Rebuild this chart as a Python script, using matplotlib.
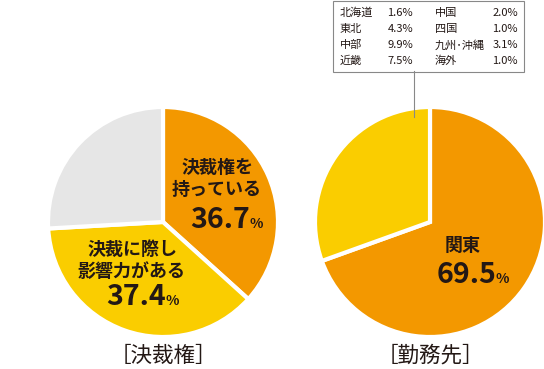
import matplotlib
matplotlib.use("Agg")
import matplotlib.pyplot as plt

plt.rcParams["font.family"] = ["Noto Sans CJK JP", "DejaVu Sans"]

# ---------------------------------------------------------------------------
# data
LEFT_TITLE = "［決裁権］"
LEFT_LABELS = [["決裁権を", "持っている"], ["決裁に際し", "影響力がある"], []]
LEFT_VALUES = [36.7, 37.4, 25.9]

RIGHT_TITLE = "［勤務先］"
RIGHT_LABELS = [["関東"], []]
RIGHT_VALUES = [69.5, 30.5]

REGION_NAMES_1 = ["北海道", "東北", "中部", "近畿"]
REGION_VALUES_1 = [1.6, 4.3, 9.9, 7.5]
REGION_NAMES_2 = ["中国", "四国", "九州･沖縄", "海外"]
REGION_VALUES_2 = [2.0, 1.0, 3.1, 1.0]

ORANGE = "#F39800"
YELLOW = "#FACD00"
GREY = "#E6E6E6"
INK = "#231815"

W, H = 544, 369
fig = plt.figure(figsize=(W / 100, H / 100), dpi=100)


def pie_axes(cx, cy, r):
    """axes whose unit circle sits at pixel centre (cx, cy) with radius r"""
    return fig.add_axes([(cx - r) / W, (H - cy - r) / H, 2 * r / W, 2 * r / H])


def draw_pie(ax, values, colors):
    ax.pie(values, colors=colors, startangle=90, counterclock=False, radius=1,
           wedgeprops=dict(edgecolor="white", linewidth=3))
    # pie() widens the limits to +-1.25, put them back so radius fills the axes
    ax.set_xlim(-1, 1)
    ax.set_ylim(-1, 1)
    ax.axis("off")


ax_l = pie_axes(163, 222, 115)
draw_pie(ax_l, LEFT_VALUES, [ORANGE, YELLOW, GREY])

ax_r = pie_axes(430, 222, 115)
draw_pie(ax_r, RIGHT_VALUES, [ORANGE, YELLOW])

# overlay in pixel coordinates for the texts
ov = fig.add_axes([0, 0, 1, 1])
ov.set_xlim(0, W)
ov.set_ylim(H, 0)
ov.axis("off")


def pie_label(lines, value, x, y0, num_x, num_y):
    for k, line in enumerate(lines):
        ov.text(x, y0 + 22 * k, line, ha="center", va="center", fontsize=13,
                fontweight="bold", color=INK)
    ov.text(num_x, num_y, f"{value:.1f}", ha="right", va="baseline",
            fontsize=20.5, fontweight="bold", color=INK)
    ov.text(num_x - 1, num_y, "%", ha="left", va="baseline",
            fontsize=10, fontweight="bold", color=INK)


pie_label(LEFT_LABELS[0], LEFT_VALUES[0], 217, 167, 250, 228)
pie_label(LEFT_LABELS[1], LEFT_VALUES[1], 132, 249, 166, 305)
pie_label(RIGHT_LABELS[0], RIGHT_VALUES[0], 463, 245, 497, 283)

ov.text(163, 356, LEFT_TITLE, ha="center", va="center", fontsize=15.5, color=INK)
ov.text(430, 356, RIGHT_TITLE, ha="center", va="center", fontsize=15.5, color=INK)

# callout box with the breakdown of the remaining regions
ov.add_patch(plt.Rectangle((333, 0.5), 191, 71, facecolor="white",
                           edgecolor="#888888", linewidth=0.8))
ov.plot([414, 414], [71, 117], color="#888888", linewidth=0.8)
for i in range(4):
    y = 13 + 16 * i
    ov.text(340, y, REGION_NAMES_1[i], ha="left", va="center", fontsize=8, color=INK)
    ov.text(413, y, f"{REGION_VALUES_1[i]:.1f}%", ha="right", va="center",
            fontsize=8, color=INK)
    ov.text(435, y, REGION_NAMES_2[i], ha="left", va="center", fontsize=8, color=INK)
    ov.text(518, y, f"{REGION_VALUES_2[i]:.1f}%", ha="right", va="center",
            fontsize=8, color=INK)

fig.savefig("out.png", dpi=100)
